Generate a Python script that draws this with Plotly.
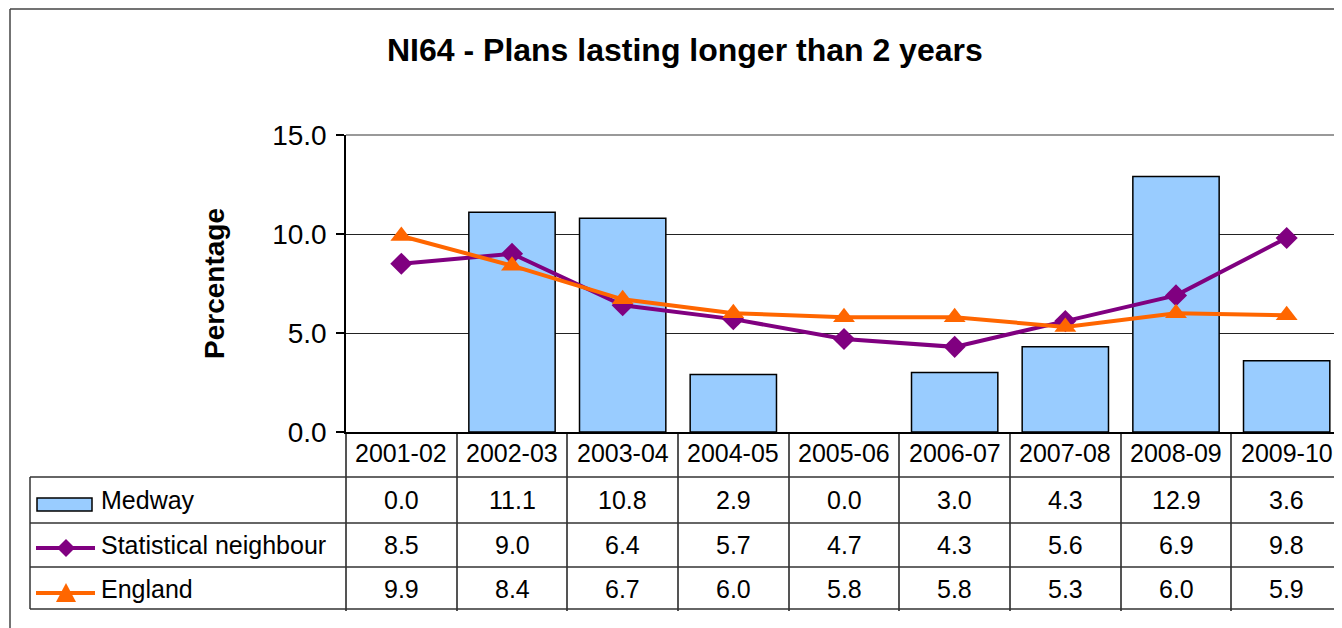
import plotly.graph_objects as go

# ---- data ----
years = ["2001-02", "2002-03", "2003-04", "2004-05", "2005-06",
         "2006-07", "2007-08", "2008-09", "2009-10"]
medway = [0.0, 11.1, 10.8, 2.9, 0.0, 3.0, 4.3, 12.9, 3.6]
stat_neighbour = [8.5, 9.0, 6.4, 5.7, 4.7, 4.3, 5.6, 6.9, 9.8]
england = [9.9, 8.4, 6.7, 6.0, 5.8, 5.8, 5.3, 6.0, 5.9]

series_names = ["Medway", "Statistical neighbour", "England"]
y_ticks = [0, 5, 10, 15]

# ---- style ----
# the page body has an 8px margin, so the figure is sized to fill the rest
OFF = 8
W, H = 1342 - OFF, 628 - OFF
BLUE = "#99CCFF"
PURPLE = "#800080"
ORANGE = "#FF6600"
FONT = "Liberation Sans, Arial, sans-serif"


def px(x):
    # screen pixel -> paper fraction
    return (x - OFF) / W


def py(y):
    return 1 - (y - OFF) / H


fig = go.Figure()

fig.add_trace(go.Bar(
    x=years, y=medway, name=series_names[0],
    marker=dict(color=BLUE,
                line=dict(color="black",
                          width=[1.5 if v > 0 else 0 for v in medway])),
))
fig.add_trace(go.Scatter(
    x=years, y=stat_neighbour, name=series_names[1], mode="lines+markers",
    line=dict(color=PURPLE, width=4),
    marker=dict(symbol="diamond", size=17, color=PURPLE),
))
fig.add_trace(go.Scatter(
    x=years, y=england, name=series_names[2], mode="lines+markers",
    line=dict(color=ORANGE, width=4),
    marker=dict(symbol="triangle-up", size=19, color=ORANGE),
))

# plot area spans x 346..1342, y 135..432 in screen pixels
fig.update_layout(
    width=W, height=H,
    margin=dict(l=0, r=0, t=0, b=0, autoexpand=False),
    paper_bgcolor="white", plot_bgcolor="white",
    font=dict(family=FONT, size=25, color="black"),
    showlegend=False,
    bargap=0.22,
    xaxis=dict(
        type="category",
        domain=[px(346), 1],
        range=[-0.5, 8.5],
        automargin=False,
        showticklabels=False,
        showgrid=False,
        showline=True, linecolor="black", linewidth=1.5,
        ticks="outside", tickson="boundaries", ticklen=177,
        tickcolor="#555", tickwidth=1.5,
    ),
    yaxis=dict(
        domain=[py(432), py(135)],
        range=[0, 15],
        automargin=False,
        tickvals=y_ticks, tickformat=".1f",
        tickfont=dict(size=28),
        showgrid=True, gridcolor="#222", gridwidth=1,
        showline=True, linecolor="black", linewidth=1.5,
        ticks="outside", ticklen=8, tickcolor="black", tickwidth=1.5,
        ticklabelstandoff=4,
        zeroline=False,
    ),
)

shapes = []
# outer chart border (left + top visible)
shapes.append(dict(type="line", xref="paper", yref="paper",
                   x0=px(10), x1=1.01, y0=py(9), y1=py(9),
                   line=dict(color="#444", width=1.5)))
shapes.append(dict(type="line", xref="paper", yref="paper",
                   x0=px(10), x1=px(10), y0=py(9), y1=-0.01,
                   line=dict(color="#444", width=1.5)))
# plot area top border (gray)
shapes.append(dict(type="line", xref="paper", yref="paper",
                   x0=px(346), x1=1.0, y0=py(135), y1=py(135),
                   line=dict(color="#999", width=2)))
# data table rows
for yy in [477, 523, 567, 609]:
    shapes.append(dict(type="line", xref="paper", yref="paper",
                       x0=px(30), x1=1.0, y0=py(yy), y1=py(yy),
                       line=dict(color="#333", width=1.5)))
shapes.append(dict(type="line", xref="paper", yref="paper",
                   x0=px(30), x1=px(30), y0=py(477), y1=py(609),
                   line=dict(color="#333", width=1.5)))

# legend keys in the table
shapes.append(dict(type="rect", xref="paper", yref="paper",
                   x0=px(37), x1=px(92), y0=py(498), y1=py(511),
                   fillcolor=BLUE, line=dict(color="black", width=1.5)))
shapes.append(dict(type="line", xref="paper", yref="paper",
                   x0=px(36), x1=px(95), y0=py(548), y1=py(548),
                   line=dict(color=PURPLE, width=4)))
shapes.append(dict(type="path", xref="paper", yref="paper",
                   path=f"M {px(66)} {py(539)} L {px(75)} {py(548)} "
                        f"L {px(66)} {py(557)} L {px(57)} {py(548)} Z",
                   fillcolor=PURPLE, line=dict(width=0)))
shapes.append(dict(type="line", xref="paper", yref="paper",
                   x0=px(36), x1=px(95), y0=py(593), y1=py(593),
                   line=dict(color=ORANGE, width=4)))
shapes.append(dict(type="path", xref="paper", yref="paper",
                   path=f"M {px(66)} {py(583)} L {px(76)} {py(602)} "
                        f"L {px(56)} {py(602)} Z",
                   fillcolor=ORANGE, line=dict(width=0)))

annotations = []
annotations.append(dict(
    text="<b>NI64 - Plans lasting longer than 2 years</b>",
    xref="paper", yref="paper", x=px(685), y=py(50),
    xanchor="center", yanchor="middle", showarrow=False,
    font=dict(size=32),
))
annotations.append(dict(
    text="<b>Percentage</b>", textangle=-90,
    xref="paper", yref="paper", x=px(214), y=py(284),
    xanchor="center", yanchor="middle", showarrow=False,
    font=dict(size=28),
))

# header row + values
row_y = [500, 545, 589]
for yr in years:
    annotations.append(dict(text=yr, xref="x", yref="paper", x=yr, y=py(453),
                            xanchor="center", yanchor="middle",
                            showarrow=False))
for name, vals, yy in zip(series_names, [medway, stat_neighbour, england], row_y):
    annotations.append(dict(text=name, xref="paper", yref="paper",
                            x=px(99), y=py(yy), xanchor="left",
                            yanchor="middle", showarrow=False))
    for yr, v in zip(years, vals):
        annotations.append(dict(text=f"{v:.1f}", xref="x", yref="paper",
                                x=yr, y=py(yy), xanchor="center",
                                yanchor="middle", showarrow=False))

fig.update_layout(shapes=shapes, annotations=annotations)

fig.write_html("out.html")
